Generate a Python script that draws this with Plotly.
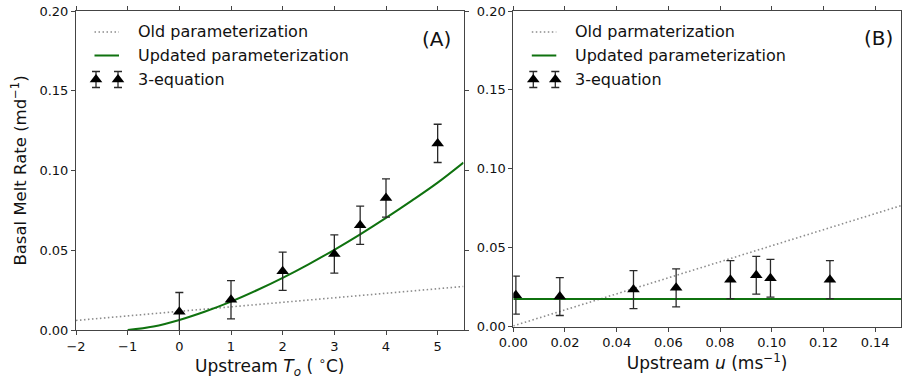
import plotly.graph_objects as go

# ---------------- data ----------------
# (A) melt rate vs upstream temperature
temp_line = [-2.0, 5.5]
melt_old_T = [0.0060, 0.0273]

temp_curve = [-1.0, -0.5, 0.0, 0.5, 1.0, 1.5, 2.0, 2.5, 3.0, 3.5, 4.0, 4.5, 5.0, 5.5]
melt_new_T = [0.0, 0.0022, 0.0063, 0.0116, 0.0178, 0.0249, 0.0327, 0.0412,
              0.0503, 0.0600, 0.0703, 0.0811, 0.0924, 0.1050]

temp_pts = [0, 1, 2, 3, 3.5, 4, 5]
melt_3eq_T = [0.0115, 0.0190, 0.0368, 0.0476, 0.0657, 0.0828, 0.1170]
err_3eq_T = [0.012, 0.012, 0.012, 0.012, 0.012, 0.012, 0.012]

# (B) melt rate vs upstream velocity
u_line = [0.0, 0.15]
melt_old_u = [0.0005, 0.0767]
melt_new_u = [0.0175, 0.0175]

u_pts = [0.001, 0.018, 0.0465, 0.063, 0.084, 0.094, 0.0995, 0.1225]
melt_3eq_u = [0.0200, 0.0191, 0.0235, 0.0246, 0.0298, 0.0326, 0.0307, 0.0298]
err_3eq_u = [0.012, 0.012, 0.012, 0.012, 0.012, 0.012, 0.012, 0.012]

legend_A = ["Old parameterization", "Updated parameterization", "3-equation"]
legend_B = ["Old parmaterization", "Updated parameterization", "3-equation"]

# ---------------- styling ----------------
W, H = 902, 382
FONT = "DejaVu Sans"
GREEN = "#0f720f"
GREY = "#8c8c8c"
AX = "#444444"
TXT = "#111111"
TRI = 11
DOTS = "1.5px,2.5px"

# panel boxes in pixels (left, right, top, bottom)
PA = (76.0, 463.5, 11.0, 330.0)
PB = (513.3, 901.0, 11.0, 326.7)


def xdom(p):
    return [p[0] / W, p[1] / W]


def ydom(p):
    return [(H - p[3]) / H, (H - p[2]) / H]


fig = go.Figure()

# panel A data
fig.add_trace(go.Scatter(x=temp_line, y=melt_old_T, mode="lines",
                         line=dict(color=GREY, width=1.6, dash=DOTS),
                         xaxis="x", yaxis="y", showlegend=False))
fig.add_trace(go.Scatter(x=temp_curve, y=melt_new_T, mode="lines",
                         line=dict(color=GREEN, width=2, shape="spline"),
                         xaxis="x", yaxis="y", showlegend=False))
fig.add_trace(go.Scatter(x=temp_pts, y=melt_3eq_T, mode="markers",
                         marker=dict(symbol="triangle-up", size=TRI, color="black"),
                         error_y=dict(type="data", array=err_3eq_T, visible=True,
                                      color="#2a2a2a", thickness=1.3, width=4),
                         xaxis="x", yaxis="y", showlegend=False))

# panel B data
fig.add_trace(go.Scatter(x=u_line, y=melt_old_u, mode="lines",
                         line=dict(color=GREY, width=1.6, dash=DOTS),
                         xaxis="x2", yaxis="y2", showlegend=False))
fig.add_trace(go.Scatter(x=u_line, y=melt_new_u, mode="lines",
                         line=dict(color=GREEN, width=2),
                         xaxis="x2", yaxis="y2", showlegend=False))
fig.add_trace(go.Scatter(x=u_pts, y=melt_3eq_u, mode="markers",
                         marker=dict(symbol="triangle-up", size=TRI, color="black"),
                         error_y=dict(type="data", array=err_3eq_u, visible=True,
                                      color="#2a2a2a", thickness=1.3, width=4),
                         xaxis="x2", yaxis="y2", showlegend=False))

# legend keys, drawn on pixel-unit overlay axes of each panel
annotations = []
for xa, ya, labels in (("x3", "y3", legend_A), ("x4", "y4", legend_B)):
    fig.add_trace(go.Scatter(x=[18.5, 43], y=[21, 21], mode="lines",
                             line=dict(color=GREY, width=1.6, dash=DOTS),
                             xaxis=xa, yaxis=ya, showlegend=False, hoverinfo="skip"))
    fig.add_trace(go.Scatter(x=[18.5, 43], y=[44.5, 44.5], mode="lines",
                             line=dict(color=GREEN, width=2),
                             xaxis=xa, yaxis=ya, showlegend=False, hoverinfo="skip"))
    fig.add_trace(go.Scatter(x=[20, 42], y=[68.5, 68.5], mode="markers",
                             marker=dict(symbol="triangle-up", size=TRI, color="black"),
                             error_y=dict(type="data", array=[8, 8], visible=True,
                                          color="#2a2a2a", thickness=1.3, width=4),
                             xaxis=xa, yaxis=ya, showlegend=False, hoverinfo="skip"))
    for lab, yy in zip(labels, (21, 44.5, 68.5)):
        annotations.append(dict(x=59.5, y=yy, xref=xa, yref=ya, text=lab,
                                showarrow=False, xanchor="left", yanchor="middle",
                                font=dict(family=FONT, size=16, color=TXT)))

annotations.append(dict(x=PA[1] - PA[0] - 11, y=28, xref="x3", yref="y3", text="(A)",
                        showarrow=False, xanchor="right", yanchor="middle",
                        font=dict(family=FONT, size=20, color=TXT)))
annotations.append(dict(x=PB[1] - PB[0] - 6, y=27, xref="x4", yref="y4", text="(B)",
                        showarrow=False, xanchor="right", yanchor="middle",
                        font=dict(family=FONT, size=20, color=TXT)))

tickfont = dict(family=FONT, size=13, color=TXT)
titlefont = dict(family=FONT, size=17, color=TXT)
axis_common = dict(showline=True, linecolor=AX, linewidth=1, mirror="ticks",
                   ticks="outside", ticklen=4, tickwidth=1, tickcolor=AX,
                   showgrid=False, zeroline=False, tickfont=tickfont,
                   automargin=False)

fig.update_layout(
    width=W, height=H,
    margin=dict(l=0, r=0, t=0, b=0, autoexpand=False),
    paper_bgcolor="white", plot_bgcolor="rgba(0,0,0,0)",
    font=dict(family=FONT, color=TXT),
    xaxis=dict(domain=xdom(PA), anchor="y", range=[-2, 5.5], tickvals=[-2, -1, 0, 1, 2, 3, 4, 5],
               title=dict(text="Upstream <i>T</i><sub><i>o</i></sub> ( <sup>∘</sup>C)",
                          font=titlefont, standoff=7),
               **axis_common),
    yaxis=dict(domain=ydom(PA), anchor="x", range=[0, 0.2], dtick=0.05, tickformat=".2f",
               title=dict(text="Basal Melt Rate (md<sup>−1</sup>)",
                          font=dict(family=FONT, size=16.5, color=TXT), standoff=8),
               **axis_common),
    xaxis2=dict(domain=xdom(PB), anchor="y2", range=[0, 0.15], dtick=0.02, tickformat=".2f",
                title=dict(text="Upstream <i>u</i> (ms<sup>−1</sup>)", font=titlefont, standoff=7),
                **axis_common),
    yaxis2=dict(domain=ydom(PB), anchor="x2", range=[0, 0.2], dtick=0.05, tickformat=".2f",
                **axis_common),
    xaxis3=dict(overlaying="x", anchor="y3", range=[0, PA[1] - PA[0]], visible=False),
    yaxis3=dict(overlaying="y", anchor="x3", range=[PA[3] - PA[2], 0], visible=False),
    xaxis4=dict(overlaying="x2", anchor="y4", range=[0, PB[1] - PB[0]], visible=False),
    yaxis4=dict(overlaying="y2", anchor="x4", range=[PB[3] - PB[2], 0], visible=False),
    annotations=annotations,
    showlegend=False,
)

fig.write_html("out.html")
